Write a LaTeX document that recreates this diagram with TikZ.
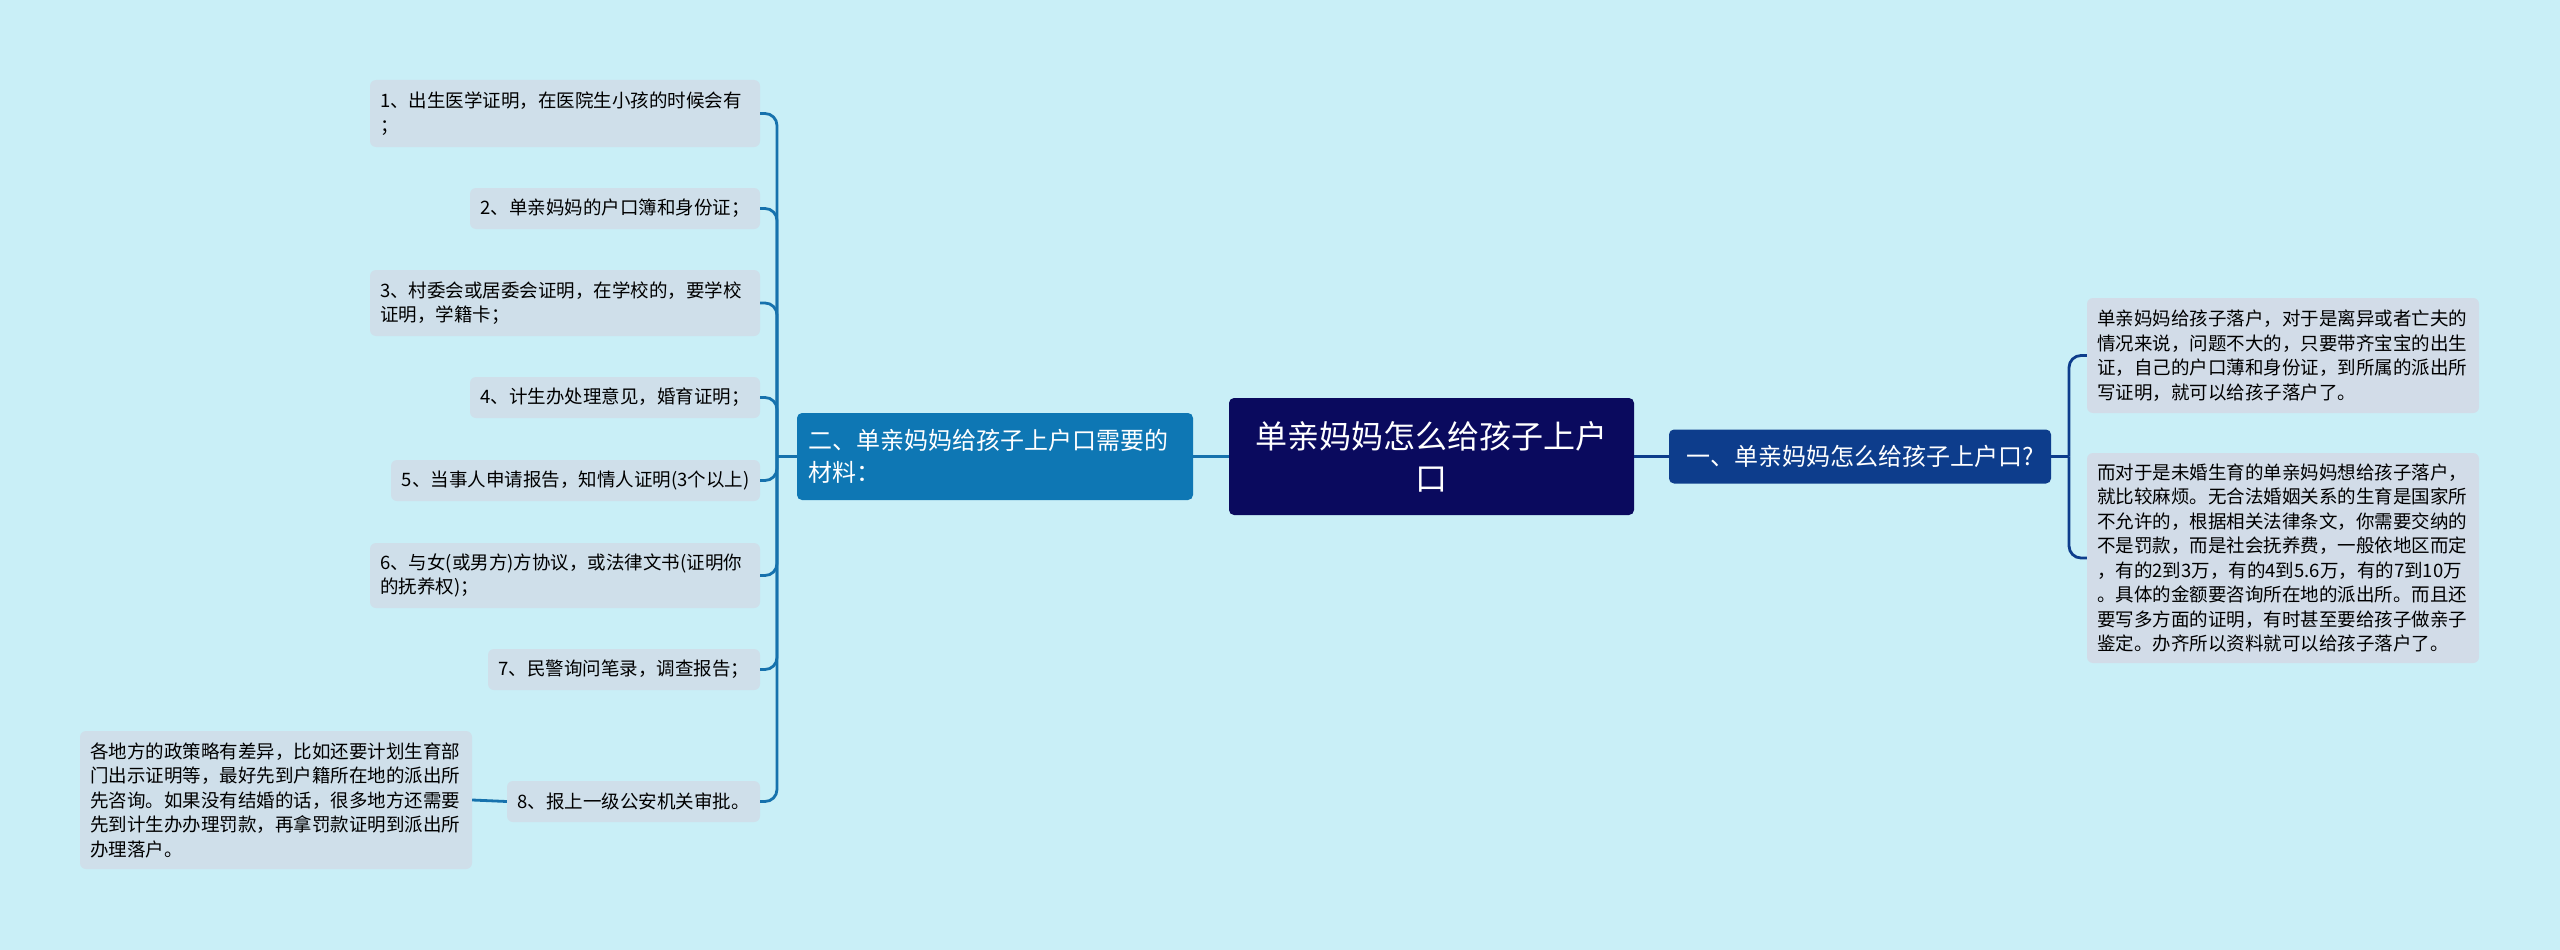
\documentclass[tikz,border=0pt]{standalone}
\usepackage{fontspec}
\setmainfont{Noto Sans CJK SC}
\definecolor{bgc}{HTML}{C9EFF7}
\definecolor{leafc}{HTML}{CFDFEA}
\definecolor{rleafc}{HTML}{D2DCE8}
\definecolor{rootc}{HTML}{0A0A5E}
\definecolor{lmainc}{HTML}{0E77B4}
\definecolor{rmainc}{HTML}{0D3D8C}
\definecolor{lline}{HTML}{1672AD}
\definecolor{rline}{HTML}{0D3D8C}
\tikzset{
  leaf/.style={fill=leafc, rounded corners=6pt, inner xsep=10pt, inner ysep=0pt,
    font=\fontsize{18.5}{24.5}\selectfont, text=black, anchor=center},
  rleaf/.style={leaf, fill=rleafc},
  mainbox/.style={rounded corners=5pt, inner xsep=11pt, inner ysep=0pt, text=white},
  lconn/.style={draw=lline, line width=2.8pt, rounded corners=12pt},
  rconn/.style={draw=rline, line width=2.8pt, rounded corners=12pt}
}
\begin{document}
\begin{tikzpicture}[x=1pt,y=-1pt]
\fill[bgc] (0,0) rectangle (2560,950);
\useasboundingbox (0,0) rectangle (2560,950);

% root and main nodes
\node[mainbox, fill=rootc, minimum width=405pt, minimum height=117pt, align=center,
  font=\fontsize{32}{42}\selectfont] (root) at (1431.5,456.5) {单亲妈妈怎么给孩子上户\\口};
\node[mainbox, fill=lmainc, minimum width=396pt, minimum height=87pt, text width=374pt, align=left,
  font=\fontsize{24}{32}\selectfont] (lm) at (995,456.5) {二、单亲妈妈给孩子上户口需要的\\材料：};
\node[mainbox, fill=rmainc, minimum width=382pt, minimum height=54pt, align=center,
  font=\fontsize{24}{32}\selectfont] (rm) at (1860,456.5) {一、单亲妈妈怎么给孩子上户口?};

% left leaves
\node[leaf, minimum width=390pt, minimum height=67pt, text width=370pt, align=left] (l1) at (565,113.5)
  {1、出生医学证明，在医院生小孩的时候会有\\；};
\node[leaf, minimum width=290pt, minimum height=41pt] (l2) at (615,208.5) {2、单亲妈妈的户口簿和身份证；};
\node[leaf, minimum width=390pt, minimum height=66pt, text width=370pt, align=left] (l3) at (565,303)
  {3、村委会或居委会证明，在学校的，要学校\\证明，学籍卡；};
\node[leaf, minimum width=290pt, minimum height=41pt] (l4) at (615,397.5) {4、计生办处理意见，婚育证明；};
\node[leaf, minimum width=369pt, minimum height=41pt] (l5) at (575.5,480.5) {5、当事人申请报告，知情人证明(3个以上)};
\node[leaf, minimum width=390pt, minimum height=65pt, text width=370pt, align=left] (l6) at (565,575.5)
  {6、与女(或男方)方协议，或法律文书(证明你\\的抚养权)；};
\node[leaf, minimum width=272pt, minimum height=41pt] (l7) at (624,669.5) {7、民警询问笔录，调查报告；};
\node[leaf, minimum width=253pt, minimum height=41pt] (l8) at (633.5,801.5) {8、报上一级公安机关审批。};
\node[leaf, minimum width=392pt, minimum height=138pt, text width=372pt, align=left] (l8c) at (276,800)
  {各地方的政策略有差异，比如还要计划生育部\\门出示证明等，最好先到户籍所在地的派出所\\先咨询。如果没有结婚的话，很多地方还需要\\先到计生办办理罚款，再拿罚款证明到派出所\\办理落户。};

% right leaves
\node[rleaf, minimum width=392pt, minimum height=115pt, text width=372pt, align=left] (r1) at (2283,355.5)
  {单亲妈妈给孩子落户，对于是离异或者亡夫的\\情况来说，问题不大的，只要带齐宝宝的出生\\证，自己的户口薄和身份证，到所属的派出所\\写证明，就可以给孩子落户了。};
\node[rleaf, minimum width=392pt, minimum height=210pt, text width=372pt, align=left] (r2) at (2283,558)
  {而对于是未婚生育的单亲妈妈想给孩子落户，\\就比较麻烦。无合法婚姻关系的生育是国家所\\不允许的，根据相关法律条文，你需要交纳的\\不是罚款，而是社会抚养费，一般依地区而定\\，有的2到3万，有的4到5.6万，有的7到10万\\。具体的金额要咨询所在地的派出所。而且还\\要写多方面的证明，有时甚至要给孩子做亲子\\鉴定。办齐所以资料就可以给孩子落户了。};

% junction coordinates
\coordinate (lj) at (777,456.5);
\coordinate (rj) at (2069,456.5);

% connectors
\draw[lconn] (root.west) -- (lm.east);
\draw[rconn] (root.east) -- (rm.west);
\draw[lconn] (lm.west) -- (lj);
\foreach \n in {l1,l2,l3,l4,l5,l6,l7,l8}{
  \draw[lconn] (lj) |- (\n.east);
}
\draw[lconn] (l8.west) -- (l8c.east);
\draw[rconn] (rm.east) -- (rj);
\foreach \n in {r1,r2}{
  \draw[rconn] (rj) |- (\n.west);
}
\end{tikzpicture}
\end{document}
